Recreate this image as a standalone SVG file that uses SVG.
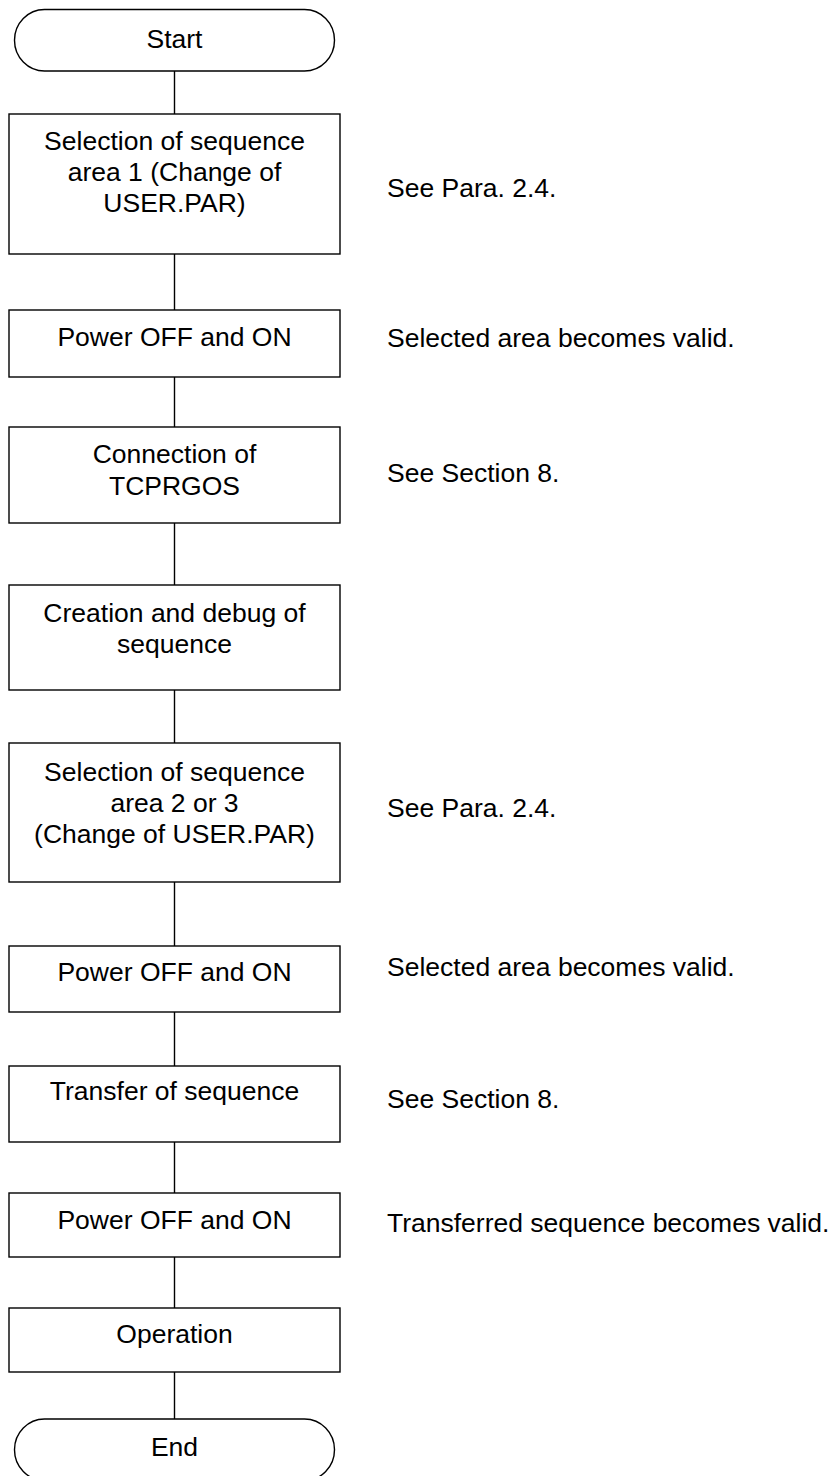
<svg xmlns="http://www.w3.org/2000/svg" width="836" height="1476" viewBox="0 0 836 1476">
<style>
.n{fill:#fff;stroke:#000;stroke-width:1.4}
.t{font-family:"Liberation Sans",Arial,sans-serif;font-size:26.5px;fill:#000}
.c{text-anchor:middle}
.e{stroke:#000;stroke-width:1.4;fill:none}
</style>
<rect width="836" height="1476" fill="#fff"/>
<g id="connectors">
<path class="e" d="M174.5 71V114M174.5 254V310M174.5 377V427M174.5 523V585M174.5 690V743M174.5 882V946M174.5 1012V1066M174.5 1142V1193M174.5 1257V1308M174.5 1372V1419"/>
</g>
<g id="start"><rect class="n" x="14.5" y="9.5" width="320" height="61.5" rx="30" ry="30.75"/><text class="t c" x="174.5" y="48">Start</text></g>
<g id="sel1"><rect class="n" x="9" y="114" width="331" height="140"/><text class="t c" x="174.5" y="150">Selection of sequence</text><text class="t c" x="174.5" y="181">area 1 (Change of</text><text class="t c" x="174.5" y="212">USER.PAR)</text></g>
<g id="note1"><text class="t" x="387" y="197">See Para. 2.4.</text></g>
<g id="pow1"><rect class="n" x="9" y="310" width="331" height="67"/><text class="t c" x="174.5" y="346">Power OFF and ON</text></g>
<g id="note2"><text class="t" x="387" y="347">Selected area becomes valid.</text></g>
<g id="conn"><rect class="n" x="9" y="427" width="331" height="96"/><text class="t c" x="174.5" y="463">Connection of</text><text class="t c" x="174.5" y="495">TCPRGOS</text></g>
<g id="note3"><text class="t" x="387" y="482">See Section 8.</text></g>
<g id="create"><rect class="n" x="9" y="585" width="331" height="105"/><text class="t c" x="174.5" y="622">Creation and debug of</text><text class="t c" x="174.5" y="653">sequence</text></g>
<g id="sel2"><rect class="n" x="9" y="743" width="331" height="139"/><text class="t c" x="174.5" y="781">Selection of sequence</text><text class="t c" x="174.5" y="812">area 2 or 3</text><text class="t c" x="174.5" y="843">(Change of USER.PAR)</text></g>
<g id="note4"><text class="t" x="387" y="817">See Para. 2.4.</text></g>
<g id="pow2"><rect class="n" x="9" y="946" width="331" height="66"/><text class="t c" x="174.5" y="981">Power OFF and ON</text></g>
<g id="note5"><text class="t" x="387" y="976">Selected area becomes valid.</text></g>
<g id="transfer"><rect class="n" x="9" y="1066" width="331" height="76"/><text class="t c" x="174.5" y="1100">Transfer of sequence</text></g>
<g id="note6"><text class="t" x="387" y="1108">See Section 8.</text></g>
<g id="pow3"><rect class="n" x="9" y="1193" width="331" height="64"/><text class="t c" x="174.5" y="1229">Power OFF and ON</text></g>
<g id="note7"><text class="t" x="387" y="1232">Transferred sequence becomes valid.</text></g>
<g id="oper"><rect class="n" x="9" y="1308" width="331" height="64"/><text class="t c" x="174.5" y="1343">Operation</text></g>
<g id="end"><rect class="n" x="14.5" y="1419" width="320" height="61.5" rx="30" ry="30.75"/><text class="t c" x="174.5" y="1456">End</text></g>
</svg>
